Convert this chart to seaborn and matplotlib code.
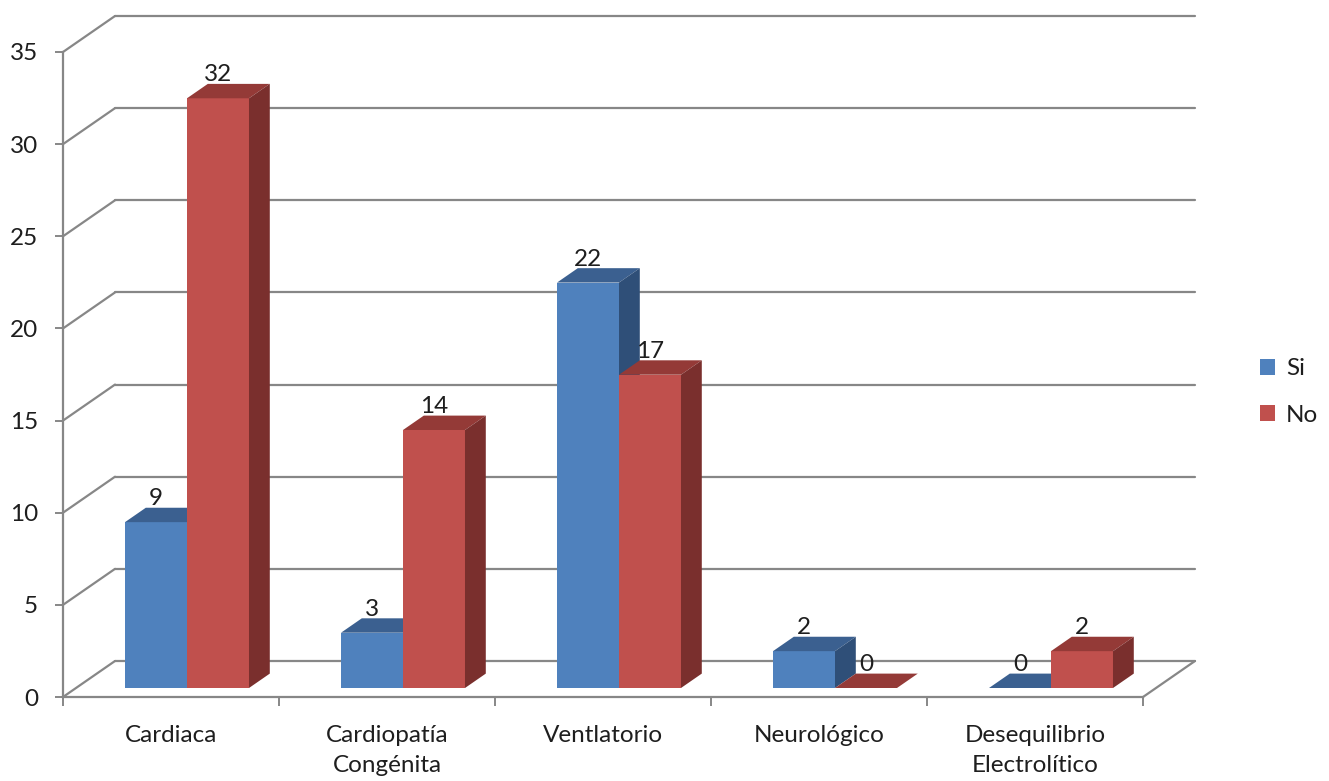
import matplotlib
matplotlib.use("Agg")
import matplotlib.pyplot as plt
from matplotlib.patches import Polygon, Patch
from matplotlib.lines import Line2D
import numpy as np
import pandas as pd
import seaborn as sns

# ---- data ----
categorias = ["Cardiaca", "Cardiopatía\nCongénita", "Ventlatorio", "Neurológico",
              "Desequilibrio\nElectrolítico"]
series = ["Si", "No"]
valores_si = [9, 3, 22, 2, 0]
valores_no = [32, 14, 17, 0, 2]
y_ticks = [0, 5, 10, 15, 20, 25, 30, 35]

# ---- style ----
front = {"Si": "#4F81BD", "No": "#C0504D"}
top = {"Si": "#3B6090", "No": "#943A37"}
side = {"Si": "#2F4F78", "No": "#7A2F2D"}
grid_c = "#878787"
text_c = "#1E1E1E"
FS = 17.5

sns.set_theme(style="white")
plt.rcParams["font.family"] = ["Lato", "DejaVu Sans"]

W, H = 1329, 781
fig = plt.figure(figsize=(W / 100, H / 100), dpi=100)
ax = fig.add_axes([63 / W, 84 / H, 1080 / W, 645 / H])

df = pd.DataFrame({
    "Causa": categorias * 2,
    "Valor": valores_si + valores_no,
    "Serie": ["Si"] * len(categorias) + ["No"] * len(categorias),
})
sns.barplot(data=df, x="Causa", y="Valor", hue="Serie", hue_order=series,
            palette=front, width=0.574, saturation=1, linewidth=0,
            errorbar=None, legend=False, ax=ax, zorder=3)

ax.set_xlim(-0.5, len(categorias) - 0.5)
ax.set_ylim(0, 35)
ax.set_xlabel("")
ax.set_ylabel("")

# depth of the 3-D box (pixels), converted to data units
bb = ax.get_window_extent()
sx = bb.width / (len(categorias))
sy = bb.height / 35
DX, DY = 52 / sx, 36 / sy
BAR_F, BAR_B = 0.25, 0.65  # front / back planes of bars, as fractions of depth
NUDGE = 3 / sx             # small lateral nudge of the bar groups

x_lo, x_hi = -0.5, len(categorias) - 0.5

# back wall gridlines and left-wall diagonals
for yv in y_ticks:
    ax.add_line(Line2D([x_lo + DX, x_hi + DX], [yv + DY, yv + DY], color=grid_c,
                       lw=1.6, clip_on=False, zorder=1))
    ax.add_line(Line2D([x_lo, x_lo + DX], [yv, yv + DY], color=grid_c,
                       lw=1.6, clip_on=False, zorder=1))
# floor right diagonal
ax.add_line(Line2D([x_hi, x_hi + DX], [0, DY], color=grid_c, lw=1.6,
                   clip_on=False, zorder=1))

# shift bar fronts into the box and add top / side faces
for p in ax.patches:
    fc = p.get_facecolor()
    s = "Si" if np.allclose(fc[:3], matplotlib.colors.to_rgb(front["Si"]), atol=0.02) else "No"
    x0, w, h = p.get_x(), p.get_width(), p.get_height()
    fx, fy = BAR_F * DX + NUDGE, BAR_F * DY
    bx, by = (BAR_B - BAR_F) * DX, (BAR_B - BAR_F) * DY
    p.set_x(x0 + fx)
    p.set_y(fy)
    X0, X1, Y0, Y1 = x0 + fx, x0 + w + fx, fy, fy + h
    order = 3 if s == "Si" else 4
    p.set_zorder(order)
    ax.add_patch(Polygon([(X0, Y1), (X1, Y1), (X1 + bx, Y1 + by), (X0 + bx, Y1 + by)],
                         closed=True, facecolor=top[s], edgecolor="none",
                         zorder=order, clip_on=False))
    ax.add_patch(Polygon([(X1, Y0), (X1 + bx, Y0 + by), (X1 + bx, Y1 + by), (X1, Y1)],
                         closed=True, facecolor=side[s], edgecolor="none",
                         zorder=order, clip_on=False))
    ax.annotate(f"{h:g}", xy=((X0 + X1) / 2, Y1 + by), xytext=(0, -1),
                textcoords="offset points", ha="center", va="bottom",
                fontsize=FS, color=text_c, zorder=6, annotation_clip=False)

# spines
for k in ["top", "right"]:
    ax.spines[k].set_visible(False)
for k in ["left", "bottom"]:
    ax.spines[k].set_color(grid_c)
    ax.spines[k].set_linewidth(1.6)
    ax.spines[k].set_zorder(2)

ax.set_yticks(y_ticks)
ax.set_yticklabels([str(v) for v in y_ticks])
ax.tick_params(axis="y", direction="out", length=6, width=1.4, color=grid_c,
               pad=12, labelsize=FS, labelcolor=text_c, left=True)
ax.set_xticks(range(len(categorias)))
ax.set_xticklabels(categorias, linespacing=1.55)
ax.tick_params(axis="x", which="major", length=0, pad=20, labelsize=FS,
               labelcolor=text_c)
ax.set_xticks(np.arange(x_lo, x_hi + 0.01, 1.0), minor=True)
ax.tick_params(axis="x", which="minor", direction="out", length=6.5, width=1.4,
               color=grid_c, bottom=True)
ax.grid(False)

handles = [Patch(facecolor=front[s], edgecolor="none", label=s) for s in series]
fig.legend(handles=handles, loc="center left", bbox_to_anchor=(1238 / W, 1 - 392 / H),
           frameon=False, fontsize=FS, handlelength=0.62, handleheight=0.62,
           handletextpad=0.45, labelspacing=1.05, labelcolor=text_c)

fig.savefig("out.png", dpi=100, facecolor="white")
